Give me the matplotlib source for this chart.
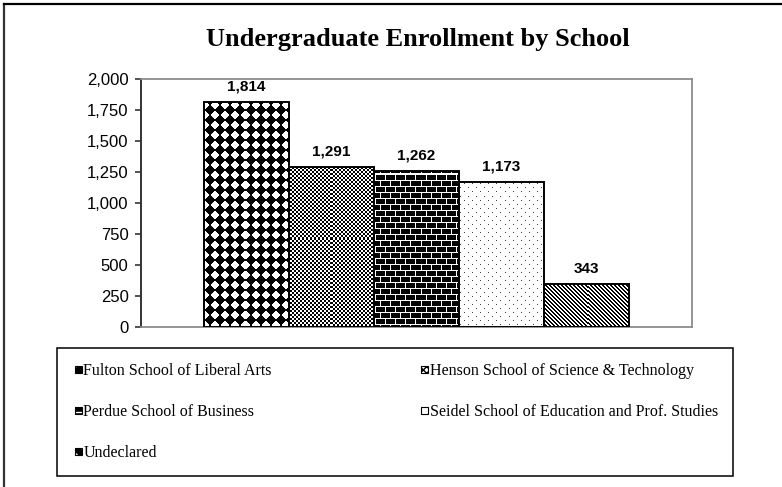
import numpy as np
import matplotlib
matplotlib.use('Agg')
import matplotlib.pyplot as plt
import matplotlib.patches as mpatches
from matplotlib.lines import Line2D
from matplotlib.legend_handler import HandlerPatch
from matplotlib.ticker import FuncFormatter, FixedLocator

# ---- data ----
schools = ["Fulton School of Liberal Arts",
           "Henson School of Science & Technology",
           "Perdue School of Business",
           "Seidel School of Education and Prof. Studies",
           "Undeclared"]
enrollment = [1814, 1291, 1262, 1173, 343]
y_ticks = [0, 250, 500, 750, 1000, 1250, 1500, 1750, 2000]
title = "Undergraduate Enrollment by School"

SANS = 'Liberation Sans'
SERIF = 'Liberation Serif'
W, H = 782, 487


# ---- fill textures (1 = white, 0 = black), in figure pixel coords ----
def tex_diamonds(X, Y):
    u = (X % 10) - 4.5
    v = (Y % 10) - 4.5
    return (np.abs(u) + np.abs(v) <= 4.0).astype(float)


def tex_confetti(X, Y):
    return (((X // 2) + (Y // 2)) % 2 == 1).astype(float)


def tex_bricks(X, Y):
    row = Y // 6
    mortar_h = (Y % 6) == 0
    mortar_v = ((X + (row % 2) * 5) % 10) == 0
    return (mortar_h | mortar_v).astype(float)


def tex_dots(X, Y):
    d1 = ((X % 8) == 0) & ((Y % 8) == 0)
    d2 = ((X % 8) == 4) & ((Y % 8) == 4)
    return 1.0 - 0.75 * (d1 | d2).astype(float)


def tex_stripes(X, Y):
    return (((X - Y) % 4) >= 2).astype(float)


textures = [tex_diamonds, tex_confetti, tex_bricks, tex_dots, tex_stripes]
legend_styles = [
    dict(facecolor='black', edgecolor='white', hatch='..'),
    dict(facecolor='white', edgecolor='black', hatch='xxxxx'),
    dict(facecolor='black', edgecolor='white', hatch='--'),
    dict(facecolor='white', edgecolor='black', hatch=''),
    dict(facecolor='black', edgecolor='white', hatch='\\\\\\'),
]

fig = plt.figure(figsize=(W / 100, H / 100), dpi=100)
fig.patch.set_facecolor('white')
ax = fig.add_axes([141 / W, 1 - 327 / H, (692 - 141) / W, (327 - 79) / H])

xpos = list(range(len(schools)))
XLIM = (-1.241, 5.241)
ax.set_xlim(*XLIM)
ax.set_ylim(y_ticks[0], y_ticks[-1])
ax.set_autoscale_on(False)

bars = ax.bar(xpos, enrollment, width=1.0, facecolor='none', edgecolor='black',
              linewidth=1.4, zorder=3)

inv = ax.transData.inverted()
for bar, fn in zip(bars, textures):
    x0, y0 = bar.get_x(), bar.get_y()
    x1, y1 = x0 + bar.get_width(), y0 + bar.get_height()
    (dx0, dy0), (dx1, dy1) = ax.transData.transform([(x0, y0), (x1, y1)])
    c0, c1 = int(np.floor(dx0)), int(np.ceil(dx1))
    r0, r1 = int(np.floor(H - dy1)), int(np.ceil(H - dy0))
    X, Y = np.meshgrid(np.arange(c0, c1), np.arange(r0, r1))
    img = fn(X, Y)
    (ex0, eyb), (ex1, eyt) = inv.transform([(c0, H - r1), (c1, H - r0)])
    im = ax.imshow(img, extent=(ex0, ex1, eyb, eyt), origin='upper', cmap='gray',
                   vmin=0, vmax=1, interpolation='nearest', aspect='auto', zorder=2)
    im.set_clip_path(bar)

ax.set_xlim(*XLIM)
ax.set_ylim(y_ticks[0], y_ticks[-1])

for i, v in zip(xpos, enrollment):
    ax.annotate(f"{v:,}", (i, v), xytext=(0, 8.0), textcoords='offset points',
                ha='center', va='baseline', fontsize=11, fontweight='bold',
                family=SANS, color='black')

ax.yaxis.set_major_locator(FixedLocator(y_ticks))
ax.yaxis.set_major_formatter(FuncFormatter(lambda v, p: f"{int(v):,}"))
ax.set_xticks([])
ax.tick_params(axis='y', direction='out', length=4, width=1.2, color='#333333',
               pad=5, labelsize=12)
for lab in ax.get_yticklabels():
    lab.set_family(SANS)
ax.spines['left'].set_color('#333333')
ax.spines['left'].set_linewidth(1.4)
for s in ('top', 'right', 'bottom'):
    ax.spines[s].set_color('#8c8c8c')
    ax.spines[s].set_linewidth(1.3)

fig.text(418 / W, 1 - 39.5 / H, title, ha='center', va='center',
         fontsize=19, fontweight='bold', family=SERIF)

# ---- legend ----
handles = [mpatches.Rectangle((0, 0), 1, 1, linewidth=0, **st) for st in legend_styles]
order = [0, 2, 4, 1, 3]
ICON = 5.0  # points


def square(legend, orig_handle, xdescent, ydescent, width, height, fontsize):
    return mpatches.Rectangle((-xdescent + width - ICON, -ydescent + (height - ICON) / 2),
                              ICON, ICON)


class SqHandler(HandlerPatch):
    def create_artists(self, legend, orig_handle, xdescent, ydescent, width,
                       height, fontsize, trans):
        arts = super().create_artists(legend, orig_handle, xdescent, ydescent,
                                      width, height, fontsize, trans)
        p = arts[0]
        bx = mpatches.Rectangle(p.get_xy(), p.get_width(), p.get_height(),
                                facecolor='none', edgecolor='black', linewidth=0.8,
                                transform=trans)
        return [p, bx]


hmap = {h: SqHandler(patch_func=square) for h in handles}
leg = fig.legend([handles[k] for k in order], [schools[k] for k in order],
                 ncol=2, loc='upper left',
                 bbox_to_anchor=(57 / W, 1 - 348 / H),
                 bbox_transform=fig.transFigure, borderaxespad=0,
                 borderpad=0.95, handlelength=0.6, handleheight=0.7,
                 handletextpad=0.106, labelspacing=1.56, columnspacing=9.17,
                 fancybox=False, edgecolor='black', framealpha=1,
                 handler_map=hmap, prop={'family': SERIF, 'size': 11.5})
leg.get_frame().set_linewidth(1.1)

# ---- outer chart border (cropped at right/bottom) ----
fig.add_artist(Line2D([4 / W, 4 / W], [0, 1 - 4 / H], transform=fig.transFigure,
                      color='#333333', linewidth=1.6))
fig.add_artist(Line2D([4 / W, 1], [1 - 4 / H, 1 - 4 / H], transform=fig.transFigure,
                      color='black', linewidth=1.6))

fig.savefig('out.png', dpi=100)
